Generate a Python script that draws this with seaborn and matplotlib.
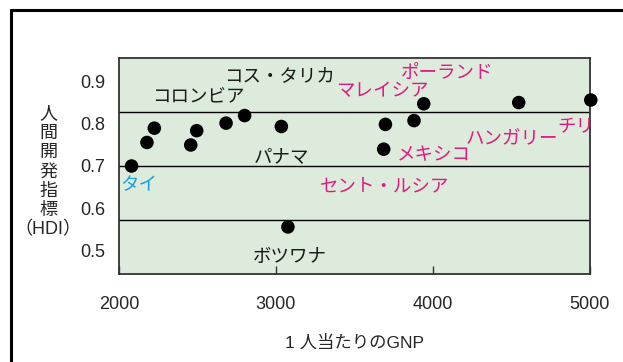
import numpy as np
import pandas as pd
import matplotlib
matplotlib.use('Agg')
import matplotlib.pyplot as plt
from matplotlib.lines import Line2D
import seaborn as sns

# data
gnp = [2080, 2178, 2225, 2457, 2495, 2682, 2800, 3034, 3076,
       3686, 3697, 3879, 3941, 4546, 5005]
hdi = [0.700, 0.756, 0.790, 0.750, 0.784, 0.802, 0.820, 0.794, 0.555,
       0.740, 0.799, 0.808, 0.848, 0.851, 0.857]

names = ['コス・タリカ', 'コロンビア', 'パナマ', 'タイ', 'ボツワナ',
         'ポーランド', 'マレイシア', 'メキシコ', 'ハンガリー', 'チリ', 'セント・ルシア']
name_x = [2669, 2210, 2860, 2006, 2853, 3796, 3382, 3771, 4210, 4790, 3280]
name_y = [0.914, 0.867, 0.721, 0.655, 0.483, 0.921, 0.879, 0.726, 0.764, 0.793, 0.652]
name_group = ['k', 'k', 'k', 'c', 'k', 'm', 'm', 'm', 'm', 'm', 'm']

xticks = [2000, 3000, 4000, 5000]
yticks = [0.5, 0.6, 0.7, 0.8, 0.9]

group_colors = {'k': '#1a1a1a', 'c': '#1a9fe0', 'm': '#e4197f'}

df = pd.DataFrame({'gnp': gnp, 'hdi': hdi})

sns.set_theme(style='white')
plt.rcParams['font.family'] = ['Liberation Sans', 'Noto Sans CJK JP']

fig = plt.figure(figsize=(6.23, 3.62), dpi=100)
ax = fig.add_axes([119 / 623, 1 - 274 / 362, 471 / 623, 216 / 362])
ax.set_facecolor('#dcebdc')

ylo, yhi = 0.443, 0.957
ax.set_xlim(2000, 5000)
ax.set_ylim(ylo, yhi)

# the box is split in four equal bands
for yy in np.linspace(ylo, yhi, 5)[1:-1]:
    ax.axhline(yy, color='black', lw=1.0, zorder=1)

sns.scatterplot(data=df, x='gnp', y='hdi', ax=ax, color='black', s=95,
                edgecolor='none', clip_on=False, zorder=3, legend=False)

for n, x, y, g in zip(names, name_x, name_y, name_group):
    ax.text(x, y, n, color=group_colors[g], fontsize=13.3, ha='left', va='center',
            family=['Noto Sans CJK JP', 'DejaVu Sans'], zorder=4)

ax.set_xticks(xticks)
ax.set_xticklabels([str(t) for t in xticks], fontsize=13)
ax.set_yticks(yticks)
ax.set_yticklabels([f'{t:.1f}' for t in yticks], fontsize=13)
ax.tick_params(axis='x', direction='in', length=6, width=1, color='#333333', pad=16, bottom=True)
ax.tick_params(axis='y', length=0, pad=10, left=False)
for sp in ax.spines.values():
    sp.set_color('#333333')
    sp.set_linewidth(1.3)

ax.set_xlabel('1 人当たりのGNP', fontsize=12.5, labelpad=15)
ax.set_ylabel('')
fig.text(48 / 623, 1 - 172 / 362, '人\n間\n開\n発\n指\n標\n（HDI）', fontsize=13,
         ha='center', va='center', multialignment='center', linespacing=1.18)

# outer frame, open to the right and bottom
fig.add_artist(Line2D([11 / 623, 1], [1 - 10 / 362, 1 - 10 / 362], color='black', lw=2.2,
                      transform=fig.transFigure))
fig.add_artist(Line2D([11 / 623, 11 / 623], [0, 1 - 10 / 362], color='black', lw=2.2,
                      transform=fig.transFigure))

fig.savefig('out.png', dpi=100)
